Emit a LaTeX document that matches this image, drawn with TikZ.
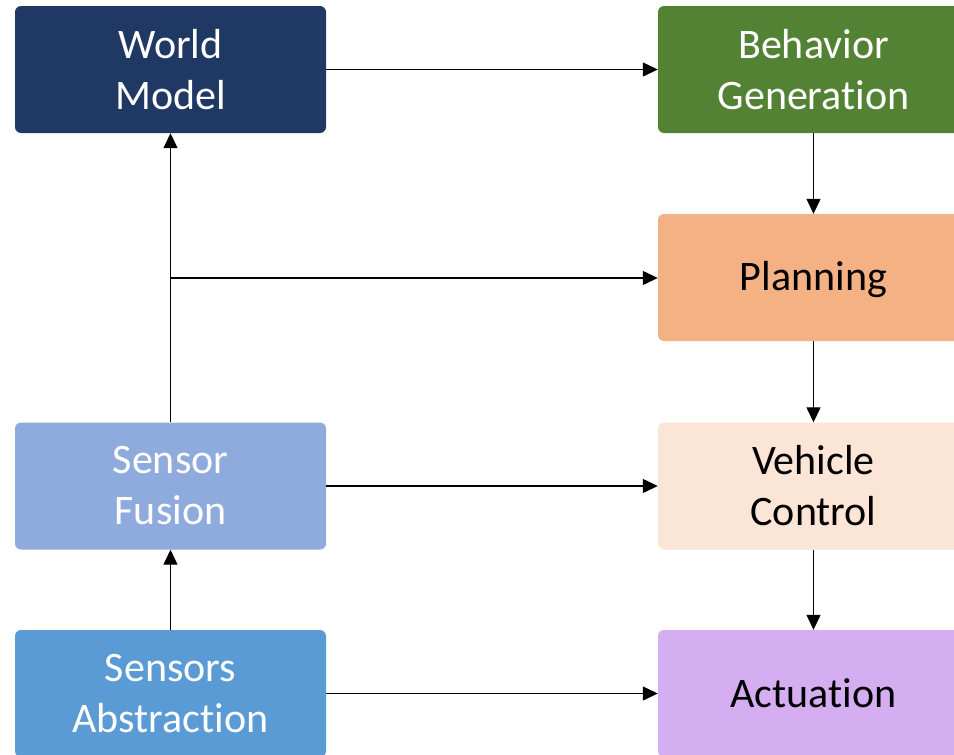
\documentclass[tikz,border=0pt]{standalone}
\usepackage{fontspec}
\setmainfont{Carlito}[Ligatures=NoCommon]
\usetikzlibrary{arrows.meta}
\definecolor{wmblue}{HTML}{1F3864}
\definecolor{bggreen}{HTML}{548235}
\definecolor{plorange}{HTML}{F4B183}
\definecolor{vcpeach}{HTML}{FBE5D6}
\definecolor{sfblue}{HTML}{8FAADC}
\definecolor{sablue}{HTML}{5B9BD5}
\definecolor{acpurple}{HTML}{D5AEF1}
\tikzset{
  block/.style={rectangle, rounded corners=6pt, minimum width=311pt, minimum height=127pt,
    inner sep=0pt, align=center, font=\fontsize{42}{51}\selectfont, text=white},
  darktext/.style={text=black},
  link/.style={line width=1.3pt, -{Triangle[length=15pt,width=14pt]}}
}
\begin{document}
\begin{tikzpicture}[x=1pt, y=-1pt]
\useasboundingbox (0,0) rectangle (954,755);
\clip (0,0) rectangle (954,755);
% left column
\node[block, fill=wmblue] (wm) at (170.5,69.5) {World\\Model};
\node[block, fill=sfblue] (sf) at (170.5,486) {Sensor\\Fusion};
\node[block, fill=sablue] (sa) at (170.5,693.5) {Sensors\\Abstraction};
% right column
\node[block, fill=bggreen] (bg) at (813.5,69.5) {Behavior\\Generation};
\node[block, darktext, fill=plorange, text depth=3pt] (pl) at (813.5,277.5) {Planning};
\node[block, darktext, fill=vcpeach] (vc) at (813.5,486) {Vehicle\\Control};
\node[block, darktext, fill=acpurple] (ac) at (813.5,693.5) {Actuation};
% branch point on the fusion-to-world-model line
\coordinate (br) at (170.5,278);
% connectors
\draw[link] (wm.east) -- (bg.west);
\draw[link] (bg.south) -- (pl.north);
\draw[link] (pl.south) -- (vc.north);
\draw[link] (vc.south) -- (ac.north);
\draw[link] (sf.east) -- (vc.west);
\draw[link] (sa.east) -- (ac.west);
\draw[link] (sa.north) -- (sf.south);
\draw[link] (sf.north) -- (wm.south);
\draw[link] (br) -- (br -| pl.west);
\end{tikzpicture}
\end{document}
